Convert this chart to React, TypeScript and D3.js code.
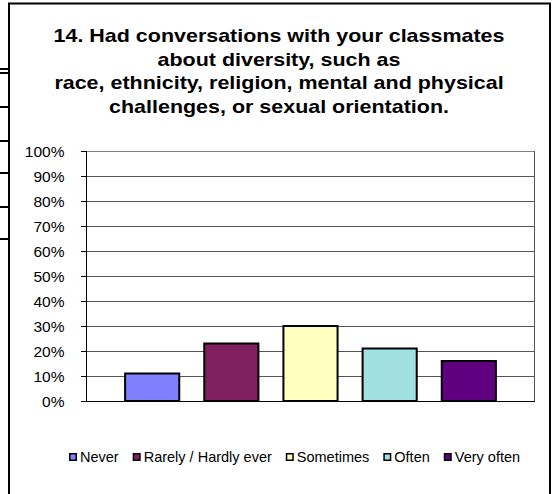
import React from "react";
import * as d3 from "d3";

const titleLines = [
  "14. Had conversations with your classmates",
  "about diversity, such as",
  "race, ethnicity, religion, mental and physical",
  "challenges, or sexual orientation.",
];
const seriesNames = ["Never", "Rarely / Hardly ever", "Sometimes", "Often", "Very often"];
const seriesValues = [0.11, 0.23, 0.3, 0.21, 0.16];
const seriesColors = ["#8080FF", "#802060", "#FFFFC0", "#A0E0E0", "#600080"];
const yTicks = [0, 0.1, 0.2, 0.3, 0.4, 0.5, 0.6, 0.7, 0.8, 0.9, 1.0];
const stubLines = [69, 73, 107, 141, 173, 207, 239];

const FONT = "Arial, 'Liberation Sans', sans-serif";

function measure(text: string, size: number, weight = "normal") {
  const c = document.createElement("canvas").getContext("2d")!;
  c.font = `${weight} ${size}px ${FONT}`;
  return c.measureText(text).width;
}

export default function App() {
  const W = 554, H = 494;
  const left = 86, right = 535, top = 151, bottom = 401;
  const y = d3.scaleLinear().domain([0, 1]).range([bottom, top]);
  const x = d3.scaleBand<string>().domain(seriesNames).range([left, right]).paddingInner(0.316).paddingOuter(0.494);
  const fmt = d3.format(".0%");

  const legendFont = 14.5;
  const legendPos: number[] = [];
  let cx = 69;
  seriesNames.forEach((s) => {
    legendPos.push(cx);
    cx += 11 + measure(s, legendFont) + 14;
  });

  const titleSize = 19;
  const titleStretch = 1.13;
  const titleCx = 279;

  return (
    <svg width={W} height={H} style={{ position: "absolute", left: 0, top: 0 }} fontFamily={FONT}>
      <rect x={0} y={0} width={W} height={H} fill="#fff" />
      {stubLines.map((sy, i) => (
        <line key={i} x1={0} x2={i === 4 ? 12 : 8} y1={sy} y2={sy} stroke="#000" strokeWidth={2} />
      ))}
      <rect x={9} y={3.5} width={541} height={H + 10} fill="#fff" stroke="#000" strokeWidth={2} />
      <g transform={`translate(${titleCx},0) scale(${titleStretch},1)`}>
        {titleLines.map((t, i) => (
          <text key={i} x={0} y={42 + i * 23.7} textAnchor="middle" fontSize={titleSize} fontWeight="bold" fill="#000">{t}</text>
        ))}
      </g>
      {yTicks.map((t, i) => (
        <g key={i}>
          {t > 0 && <line x1={left} x2={right} y1={Math.round(y(t)) + 0.5} y2={Math.round(y(t)) + 0.5} stroke={t === 1 ? "#808080" : "#555"} strokeWidth={1} />}
          <line x1={left - 5} x2={left} y1={Math.round(y(t)) + 0.5} y2={Math.round(y(t)) + 0.5} stroke="#000" />
          <text x={64.5} y={y(t) + 5.5} textAnchor="end" fontSize={15.5} fill="#000">{fmt(t)}</text>
        </g>
      ))}
      <line x1={right - 0.5} x2={right - 0.5} y1={top} y2={bottom} stroke="#555" />
      {seriesNames.map((s, i) => (
        <rect key={s} x={x(s)!} y={y(seriesValues[i])} width={x.bandwidth()} height={bottom - y(seriesValues[i])}
          fill={seriesColors[i]} stroke="#000" strokeWidth={2} />
      ))}
      <line x1={left + 0.5} x2={left + 0.5} y1={top} y2={bottom} stroke="#000" />
      <line x1={left} x2={right} y1={bottom + 0.5} y2={bottom + 0.5} stroke="#000" />
      {seriesNames.map((s, i) => (
        <g key={s}>
          <rect x={legendPos[i] + 0.75} y={453.75} width={6.5} height={6.5} fill={seriesColors[i]} stroke="#000" strokeWidth={1.5} />
          <text x={legendPos[i] + 11} y={462} fontSize={legendFont} fill="#000">{s}</text>
        </g>
      ))}
    </svg>
  );
}
